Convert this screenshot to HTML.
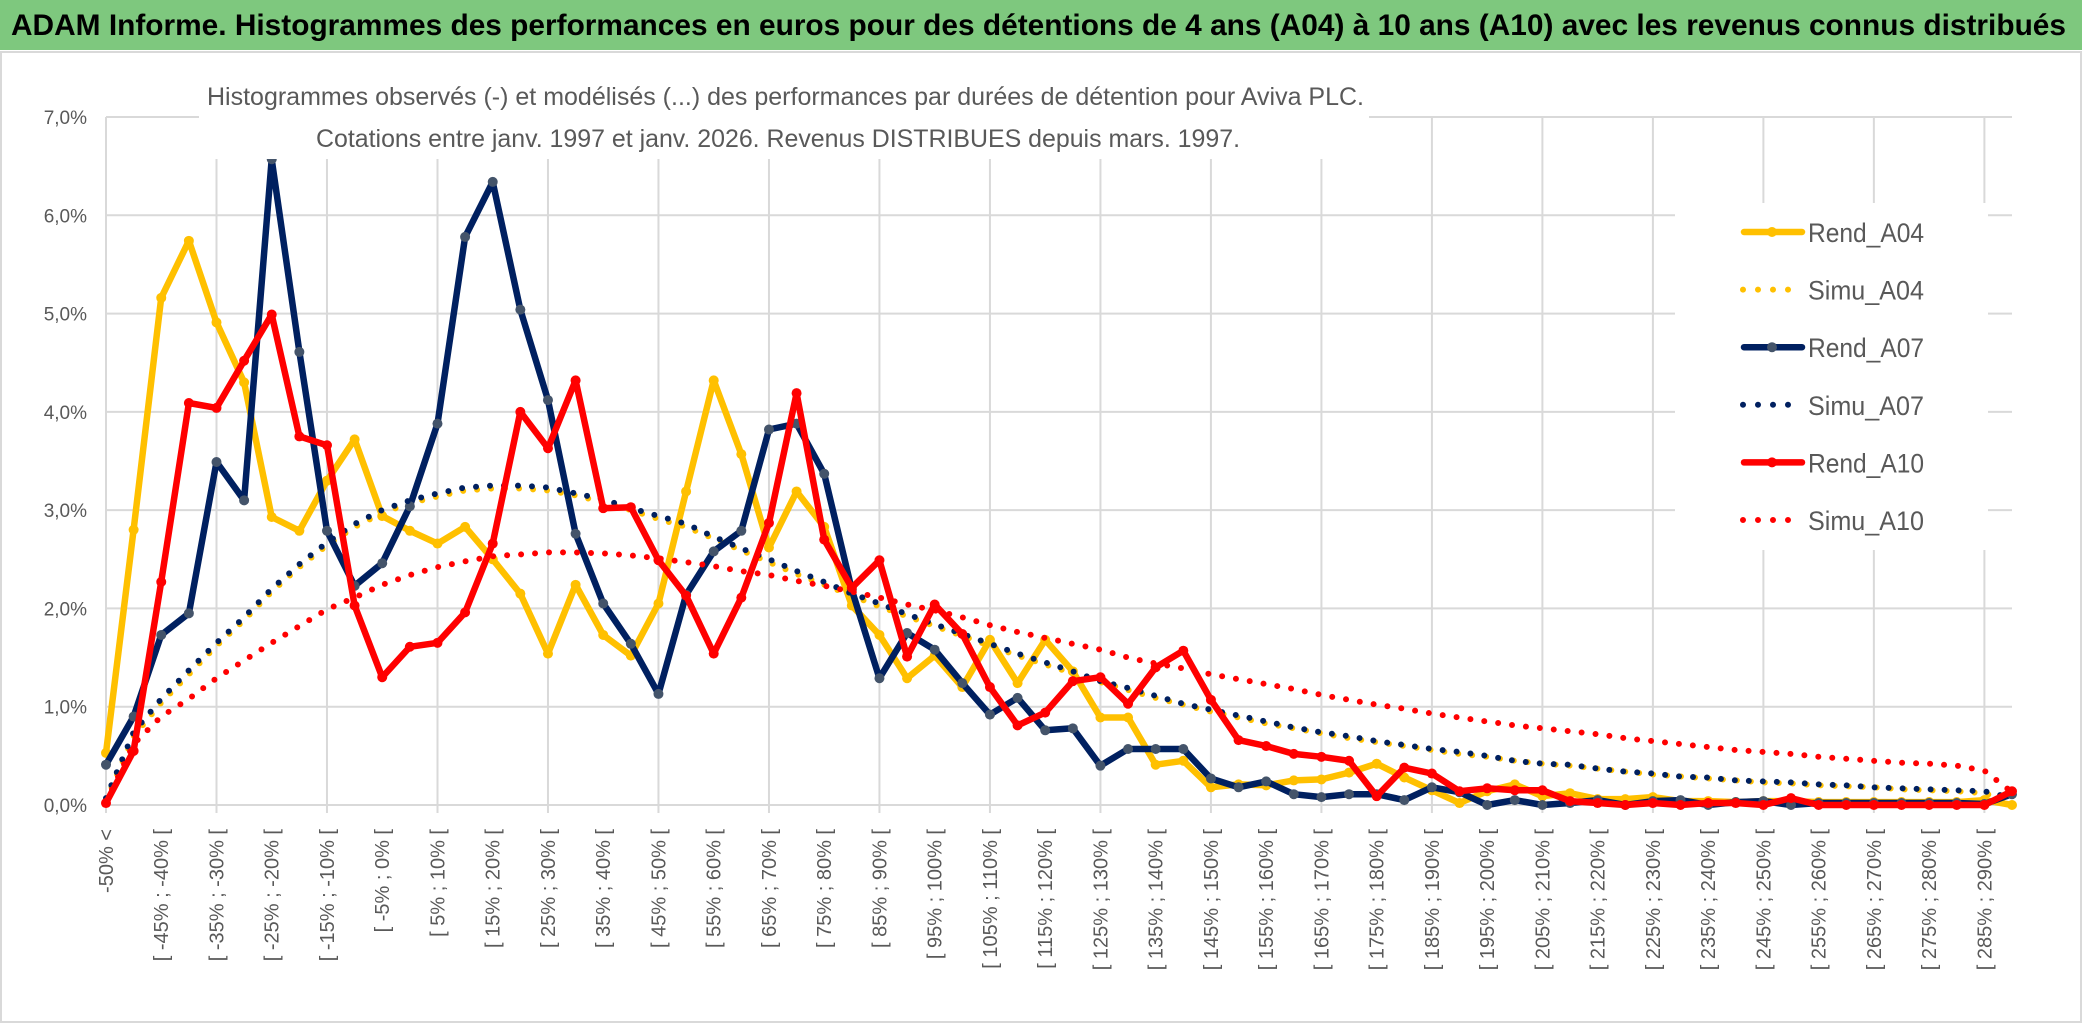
<!DOCTYPE html>
<html><head><meta charset="utf-8"><style>
html,body{margin:0;padding:0;background:#fff;width:2086px;height:1031px;overflow:hidden}
svg{display:block}
</style></head><body>
<svg id="chart" width="2086" height="1031" viewBox="0 0 2086 1031" xmlns="http://www.w3.org/2000/svg">
<rect x="0" y="0" width="2082" height="50" fill="#7EC87E"/>
<rect x="1" y="52" width="2080" height="970" fill="#fff" stroke="#d9d9d9" stroke-width="2"/>
<text x="11" y="35" font-family="Liberation Sans, sans-serif" font-weight="bold" font-size="30" fill="#000" textLength="2055" lengthAdjust="spacingAndGlyphs">ADAM Informe. Histogrammes des performances en euros pour des détentions de 4 ans (A04) à 10 ans (A10) avec les revenus connus distribués</text>
<g id="grid"></g>
<g id="series"></g>
<rect x="199" y="60" width="1170" height="99" fill="#fff"/>
<text x="207" y="105" font-family="Liberation Sans, sans-serif" font-size="25" fill="#595959" textLength="1157" lengthAdjust="spacingAndGlyphs">Histogrammes observés (-) et modélisés (...) des performances par durées de détention pour Aviva PLC.</text>
<text x="316" y="147" font-family="Liberation Sans, sans-serif" font-size="25" fill="#595959" textLength="924" lengthAdjust="spacingAndGlyphs">Cotations entre janv. 1997 et janv. 2026. Revenus DISTRIBUES depuis mars. 1997.</text>
<g id="legend"></g>
<g id="axes"></g>
</svg>
<script>
const categories = ["-50% <","[ -50% ; -45% [","[ -45% ; -40% [","[ -40% ; -35% [","[ -35% ; -30% [","[ -30% ; -25% [","[ -25% ; -20% [","[ -20% ; -15% [","[ -15% ; -10% [","[ -10% ; -5% [","[ -5% ; 0% [","[ 0% ; 5% [","[ 5% ; 10% [","[ 10% ; 15% [","[ 15% ; 20% [","[ 20% ; 25% [","[ 25% ; 30% [","[ 30% ; 35% [","[ 35% ; 40% [","[ 40% ; 45% [","[ 45% ; 50% [","[ 50% ; 55% [","[ 55% ; 60% [","[ 60% ; 65% [","[ 65% ; 70% [","[ 70% ; 75% [","[ 75% ; 80% [","[ 80% ; 85% [","[ 85% ; 90% [","[ 90% ; 95% [","[ 95% ; 100% [","[ 100% ; 105% [","[ 105% ; 110% [","[ 110% ; 115% [","[ 115% ; 120% [","[ 120% ; 125% [","[ 125% ; 130% [","[ 130% ; 135% [","[ 135% ; 140% [","[ 140% ; 145% [","[ 145% ; 150% [","[ 150% ; 155% [","[ 155% ; 160% [","[ 160% ; 165% [","[ 165% ; 170% [","[ 170% ; 175% [","[ 175% ; 180% [","[ 180% ; 185% [","[ 185% ; 190% [","[ 190% ; 195% [","[ 195% ; 200% [","[ 200% ; 205% [","[ 205% ; 210% [","[ 210% ; 215% [","[ 215% ; 220% [","[ 220% ; 225% [","[ 225% ; 230% [","[ 230% ; 235% [","[ 235% ; 240% [","[ 240% ; 245% [","[ 245% ; 250% [","[ 250% ; 255% [","[ 255% ; 260% [","[ 260% ; 265% [","[ 265% ; 270% [","[ 270% ; 275% [","[ 275% ; 280% [","[ 280% ; 285% [","[ 285% ; 290% [","290% >"];
const yTicks = [0,1,2,3,4,5,6,7];
const yTickLabels = ["0,0%","1,0%","2,0%","3,0%","4,0%","5,0%","6,0%","7,0%"];
const rendA04 = [0.53,2.80,5.16,5.74,4.91,4.30,2.93,2.79,3.30,3.72,2.94,2.79,2.66,2.83,2.50,2.15,1.54,2.24,1.73,1.52,2.05,3.19,4.32,3.57,2.62,3.19,2.83,2.03,1.73,1.29,1.52,1.20,1.68,1.24,1.68,1.36,0.89,0.89,0.41,0.45,0.18,0.21,0.20,0.25,0.26,0.33,0.42,0.28,0.15,0.02,0.14,0.21,0.09,0.12,0.06,0.06,0.08,0.04,0.04,0.03,0.04,0.04,0.03,0.03,0.03,0.03,0.03,0.03,0.05,0.00];
const simuA04 = [0.05,0.70,1.04,1.33,1.62,1.88,2.17,2.42,2.64,2.83,2.97,3.07,3.14,3.20,3.22,3.22,3.20,3.15,3.08,3.00,2.91,2.83,2.71,2.59,2.47,2.35,2.24,2.13,2.02,1.92,1.82,1.72,1.62,1.52,1.43,1.34,1.25,1.17,1.09,1.02,0.95,0.89,0.83,0.78,0.73,0.68,0.64,0.60,0.56,0.52,0.49,0.45,0.42,0.40,0.37,0.34,0.31,0.29,0.27,0.25,0.23,0.22,0.20,0.19,0.18,0.16,0.15,0.14,0.12,0.03];
const rendA07 = [0.41,0.90,1.73,1.95,3.49,3.10,6.57,4.61,2.79,2.23,2.46,3.04,3.88,5.78,6.34,5.04,4.12,2.76,2.05,1.64,1.13,2.14,2.58,2.79,3.82,3.88,3.37,2.19,1.29,1.75,1.58,1.24,0.92,1.09,0.76,0.78,0.40,0.57,0.57,0.57,0.27,0.18,0.24,0.11,0.08,0.11,0.11,0.05,0.18,0.13,0.00,0.05,0.00,0.02,0.05,0.00,0.04,0.05,0.00,0.03,0.04,0.00,0.02,0.02,0.02,0.02,0.02,0.02,0.01,0.11];
const simuA07 = [0.07,0.74,1.08,1.37,1.65,1.91,2.20,2.45,2.67,2.86,3.00,3.10,3.17,3.23,3.25,3.25,3.23,3.17,3.11,3.02,2.94,2.86,2.73,2.61,2.50,2.38,2.27,2.15,2.05,1.94,1.84,1.74,1.64,1.54,1.45,1.36,1.26,1.19,1.11,1.03,0.97,0.91,0.85,0.79,0.74,0.70,0.65,0.61,0.57,0.54,0.50,0.45,0.42,0.41,0.37,0.34,0.32,0.29,0.28,0.25,0.24,0.23,0.21,0.20,0.18,0.17,0.16,0.15,0.14,0.07];
const rendA10 = [0.02,0.55,2.27,4.09,4.04,4.52,4.99,3.75,3.66,2.03,1.30,1.61,1.65,1.96,2.66,4.00,3.63,4.32,3.02,3.03,2.49,2.13,1.54,2.11,2.87,4.19,2.70,2.21,2.49,1.51,2.04,1.74,1.20,0.81,0.94,1.26,1.30,1.03,1.40,1.57,1.07,0.66,0.60,0.52,0.49,0.45,0.09,0.38,0.32,0.14,0.17,0.15,0.15,0.04,0.02,0.00,0.02,0.00,0.02,0.02,0.00,0.07,0.00,0.00,0.00,0.00,0.00,0.00,0.00,0.14];
const simuA10 = [0.03,0.62,0.90,1.08,1.29,1.47,1.65,1.82,1.99,2.11,2.24,2.34,2.42,2.48,2.53,2.55,2.57,2.57,2.56,2.54,2.51,2.47,2.43,2.38,2.34,2.28,2.23,2.17,2.11,2.04,1.98,1.91,1.83,1.76,1.70,1.64,1.58,1.50,1.44,1.39,1.33,1.28,1.23,1.18,1.12,1.07,1.02,0.98,0.93,0.89,0.85,0.81,0.78,0.75,0.72,0.68,0.65,0.62,0.59,0.56,0.54,0.52,0.49,0.47,0.45,0.43,0.42,0.40,0.35,0.13];
const seriesNames = ["Rend_A04","Simu_A04","Rend_A07","Simu_A07","Rend_A10","Simu_A10"];

const NS = "http://www.w3.org/2000/svg";
const X0 = 106, X1 = 2012, Y0 = 805, YTOP = 117, YMAX = 7;
const step = (X1 - X0) / (categories.length - 1);
function xScale(i){ return X0 + i * step; }
function yScale(v){ return Y0 - (v / YMAX) * (Y0 - YTOP); }
function mk(tag, attrs, parent){
  const el = document.createElementNS(NS, tag);
  for (const k in attrs) el.setAttribute(k, attrs[k]);
  parent.appendChild(el);
  return el;
}
const grid = document.getElementById('grid');
const axes = document.getElementById('axes');
const seriesG = document.getElementById('series');
const legend = document.getElementById('legend');

yTicks.forEach((t, k) => {
  const ln = mk('line', {x1: X0, x2: X1, y1: yScale(t), y2: yScale(t), stroke: '#d9d9d9', 'stroke-width': 2}, grid);
  
  
  const tx = mk('text', {x: 87, y: yScale(t) + 7, 'text-anchor': 'end', 'font-family': 'Liberation Sans, sans-serif', 'font-size': 19, fill: '#595959'}, axes);
  tx.textContent = yTickLabels[k];
  
  
});
for (let i = 0; i < categories.length; i += 4) {
  const ln = mk('line', {x1: xScale(i), x2: xScale(i), y1: YTOP, y2: Y0 + 8, stroke: '#d9d9d9', 'stroke-width': 2}, grid);
  
  
}
for (let i = 0; i < categories.length - 1; i += 2) {
  const x = xScale(i) + 7, y = 829;
  const tx = mk('text', {x: x, y: y, transform: 'rotate(-90 ' + x + ' ' + y + ')', 'text-anchor': 'end', 'font-family': 'Liberation Sans, sans-serif', 'font-size': 20, fill: '#595959'}, axes);
  tx.textContent = categories[i];
  
  
}

function drawRend(vals, color, markerFill, name){
  const pts = vals.map((v, i) => xScale(i).toFixed(1) + ',' + yScale(v).toFixed(1)).join(' ');
  const pl = mk('polyline', {points: pts, fill: 'none', stroke: color, 'stroke-width': 6.5, 'stroke-linejoin': 'round', 'stroke-linecap': 'round'}, seriesG);
  
  
  vals.forEach((v, i) => {
    const c = mk('circle', {cx: xScale(i), cy: yScale(v), r: 5, fill: markerFill}, seriesG);
    
    
  });
}
function drawSimu(vals, color, name){
  const pts = vals.map((v, i) => xScale(i).toFixed(1) + ',' + yScale(v).toFixed(1)).join(' ');
  const pl = mk('polyline', {points: pts, fill: 'none', stroke: color, 'stroke-width': 6, 'stroke-dasharray': '0 14', 'stroke-linecap': 'round', 'stroke-linejoin': 'round'}, seriesG);
  
  
}
drawRend(rendA04, '#FFC000', '#FFC000', 'rend-a04');
drawSimu(simuA04, '#FFC000', 'simu-a04');
drawRend(rendA07, '#002060', '#44546A', 'rend-a07');
drawSimu(simuA07, '#002060', 'simu-a07');
drawRend(rendA10, '#FF0000', '#FF0000', 'rend-a10');
drawSimu(simuA10, '#FF0000', 'simu-a10');

const lb = mk('rect', {x: 1675, y: 203, width: 313, height: 347, fill: '#fff'}, legend);


const legColors = ['#FFC000','#FFC000','#002060','#002060','#FF0000','#FF0000'];
const legMarker = ['#FFC000','#FFC000','#44546A','#44546A','#FF0000','#FF0000'];
seriesNames.forEach((n, k) => {
  const y = 232 + k * 57.6;
  const g = mk('g', {}, legend);
  
  
  if (k % 2 === 0) {
    mk('line', {x1: 1744, x2: 1802, y1: y, y2: y, stroke: legColors[k], 'stroke-width': 6.5, 'stroke-linecap': 'round'}, g);
    mk('circle', {cx: 1772, cy: y, r: 5, fill: legMarker[k]}, g);
  } else {
    mk('line', {x1: 1743, x2: k === 5 ? 1800 : 1792, y1: y, y2: y, stroke: legColors[k], 'stroke-width': 6, 'stroke-dasharray': '0 15', 'stroke-linecap': 'round'}, g);
  }
  const tx = mk('text', {x: 1808, y: y + 10, 'font-family': 'Liberation Sans, sans-serif', 'font-size': 27, fill: '#595959', textLength: 116, lengthAdjust: 'spacingAndGlyphs'}, g);
  tx.textContent = n;
});
</script>
</body></html>
